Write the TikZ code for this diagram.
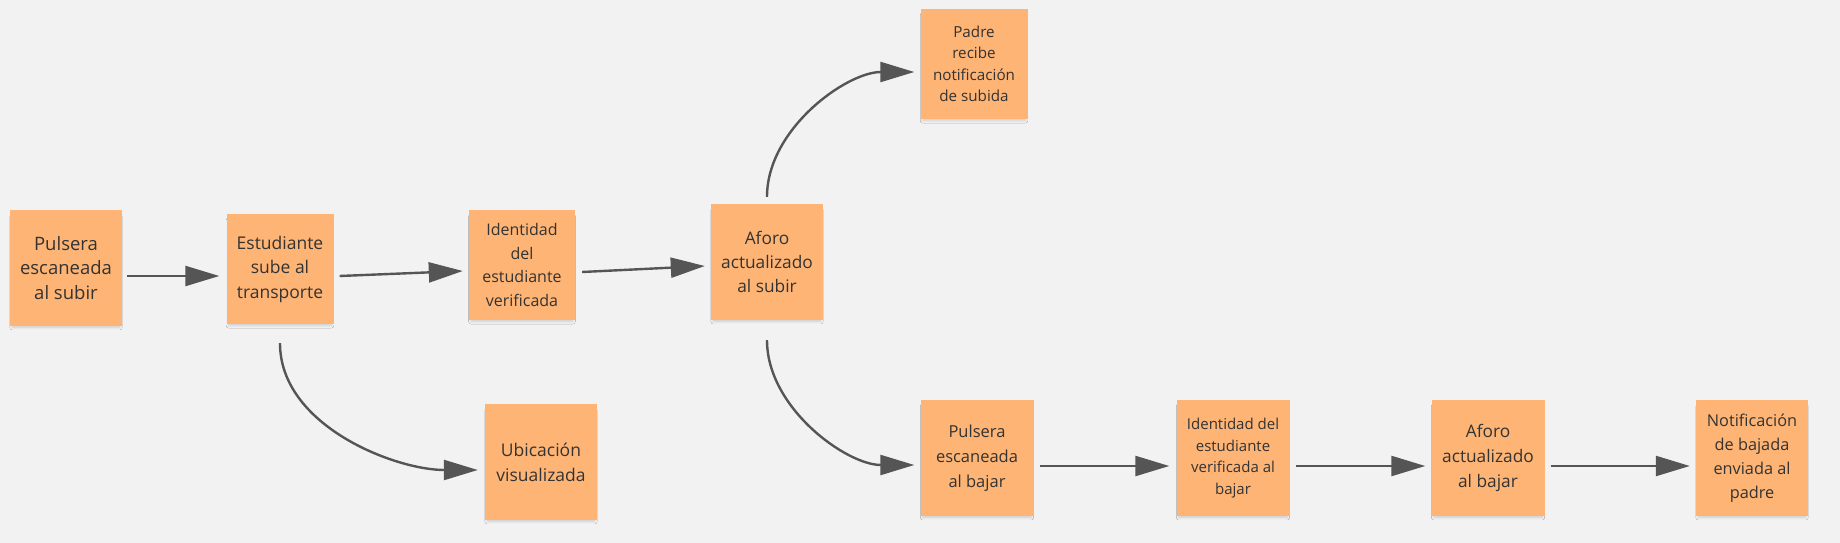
\documentclass[tikz,border=0pt]{standalone}
\usepackage{fontspec}
\setmainfont{Open Sans}
\usetikzlibrary{arrows.meta,calc,shadows.blur}
\definecolor{bg}{HTML}{F2F2F2}
\definecolor{sticky}{HTML}{FDB474}
\definecolor{ink}{HTML}{333333}
\definecolor{arrowc}{HTML}{555555}
\tikzset{
  sticky/.style={fill=sticky, draw=none, minimum width=#1, inner sep=0pt, align=center, text=ink,
    blur shadow={shadow xshift=0pt, shadow yshift=-4pt, shadow scale=0.96, shadow blur radius=2.5pt, shadow blur steps=6, shadow opacity=16}},
  sticky/.default=112pt,
  fsz/.style 2 args={font=\fontsize{#1}{#2}\selectfont},
  conn/.style={draw=arrowc, line width=2.4pt, -{Triangle[length=34pt,width=20pt]}},
}
\begin{document}
\begin{tikzpicture}[x=1pt,y=-1pt]
\useasboundingbox[fill=bg] (0,0) rectangle (1840,543);
\node[sticky=112pt, minimum height=116pt, fsz={18.5}{24.5}] (n1) at (66,268) {Pulsera\\escaneada\\al subir};
\node[sticky=107pt, minimum height=110pt, fsz={17.5}{24.5}] (n2) at (280,269) {Estudiante\\sube al\\transporte};
\node[sticky=106pt, minimum height=110pt, fsz={16}{23.5}] (n3) at (522,265) {Identidad\\del\\estudiante\\verificada};
\node[sticky=112pt, minimum height=116pt, fsz={17.3}{24}] (n4) at (767,262) {Aforo\\actualizado\\al subir};
\node[sticky=107pt, minimum height=110pt, fsz={15.2}{21.5}] (n5) at (974,64) {Padre\\recibe\\notificación\\de subida};
\node[sticky=112pt, minimum height=116pt, fsz={17.5}{25}] (n6) at (541,462) {Ubicación\\visualizada};
\node[sticky=113pt, minimum height=116pt, fsz={16.5}{25}] (n7) at (977,458) {Pulsera\\escaneada\\al bajar};
\node[sticky=113pt, minimum height=116pt, fsz={15}{21.5}] (n8) at (1233,458) {Identidad del\\estudiante\\verificada al\\bajar};
\node[sticky=113pt, minimum height=116pt, fsz={17.3}{25}] (n9) at (1488,458) {Aforo\\actualizado\\al bajar};
\node[sticky=112pt, minimum height=116pt, fsz={16.3}{24}] (n10) at (1752,458) {Notificación\\de bajada\\enviada al\\padre};

\draw[conn] ($(n1.east)+(5,8)$) -- ($(n2.west)+(-7,7)$);
\draw[conn] ($(n2.east)+(6,7)$) -- ($(n3.west)+(-6,6)$);
\draw[conn] ($(n3.east)+(7,7)$) -- ($(n4.west)+(-6,4)$);
\draw[conn] ($(n4.north)+(0,-7)$) to[out=90,in=180,looseness=0.9] ($(n5.west)+(-6,8)$);
\draw[conn] ($(n2.south)+(0,19)$) to[out=-90,in=180,looseness=0.9] ($(n6.west)+(-7,8)$);
\draw[conn] ($(n4.south)+(0,20)$) to[out=-90,in=180,looseness=0.9] ($(n7.west)+(-6,7)$);
\draw[conn] ($(n7.east)+(6,8)$) -- ($(n8.west)+(-7,8)$);
\draw[conn] ($(n8.east)+(6,8)$) -- ($(n9.west)+(-6,8)$);
\draw[conn] ($(n9.east)+(6,8)$) -- ($(n10.west)+(-6,8)$);
\end{tikzpicture}
\end{document}
